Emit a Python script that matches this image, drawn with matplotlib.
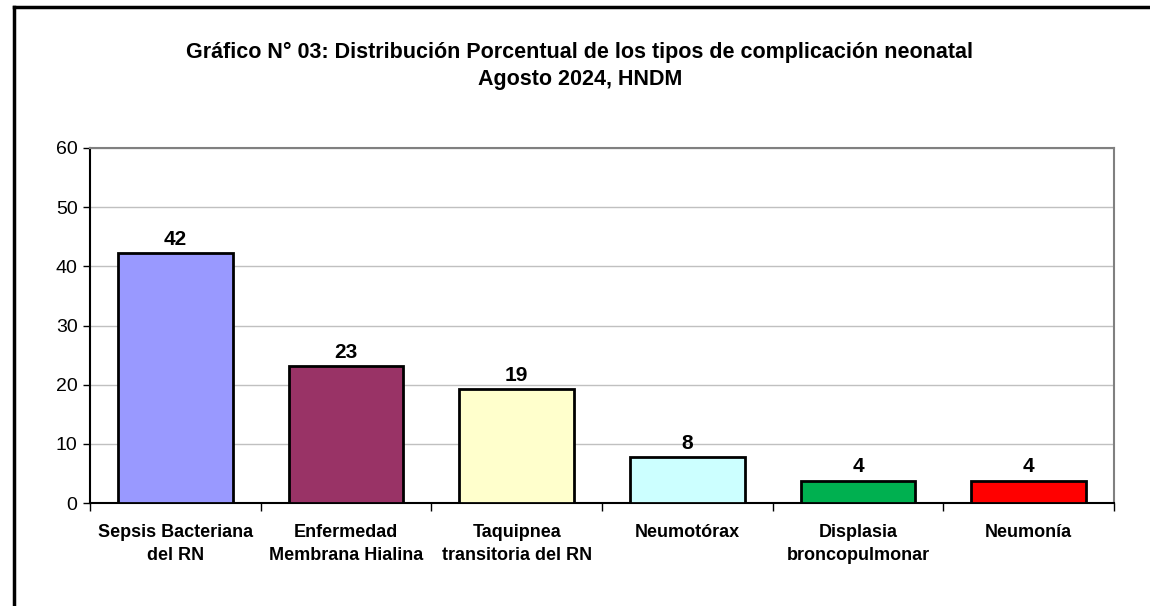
import matplotlib as mpl
import matplotlib.pyplot as plt
from matplotlib.lines import Line2D

mpl.use('Agg')

plt.rcParams['font.family'] = ['Liberation Sans Narrow', 'Liberation Sans', 'DejaVu Sans']

# Data
categories = ['Sepsis Bacteriana\ndel RN', 'Enfermedad\nMembrana Hialina',
              'Taquipnea\ntransitoria del RN', 'Neumotórax',
              'Displasia\nbroncopulmonar', 'Neumonía']
values = [42.3, 23.1, 19.2, 7.7, 3.8, 3.8]
labels = ['42', '23', '19', '8', '4', '4']
colors = ['#9999FF', '#993366', '#FFFFCC', '#CCFFFF', '#00B050', '#FF0000']
yticks = [0, 10, 20, 30, 40, 50, 60]

fig = plt.figure(figsize=(11.5, 6.06), dpi=100)
ax = fig.add_axes([90 / 1150, 1 - 503 / 606, 1024 / 1150, 355 / 606])

x = range(len(categories))
ax.bar(x, values, width=0.67, color=colors, edgecolor='black', linewidth=2, zorder=3)
for i, (v, t) in enumerate(zip(values, labels)):
    ax.annotate(t, (i, v), xytext=(0, 3), textcoords='offset points',
                ha='center', va='bottom', fontsize=15, fontweight='bold')

ax.set_xlim(-0.5, len(categories) - 0.5)
ax.set_ylim(0, 60)
ax.set_yticks(yticks)
ax.yaxis.grid(True, color='#c0c0c0', linewidth=1, zorder=0)
ax.tick_params(axis='y', labelsize=14, length=5, width=1, pad=4)

# category labels between boundary ticks
ax.set_xticks([i - 0.5 for i in range(len(categories) + 1)])
ax.set_xticklabels([])
ax.tick_params(axis='x', length=6, width=1)
ax.set_xticks(list(x), minor=True)
ax.set_xticklabels(categories, minor=True, fontsize=13, fontweight='bold', linespacing=1.45)
ax.tick_params(axis='x', which='minor', length=0, pad=15)

for s in ['top', 'right']:
    ax.spines[s].set_color('#808080')
    ax.spines[s].set_linewidth(1.5)
for s in ['left', 'bottom']:
    ax.spines[s].set_color('black')
    ax.spines[s].set_linewidth(1.5)

fig.text(580 / 1150, 1 - 52 / 606,
         'Gráfico N° 03: Distribución Porcentual de los tipos de complicación neonatal',
         ha='center', va='center', fontsize=15.5, fontweight='bold')
fig.text(580 / 1150, 1 - 80 / 606, 'Agosto 2024, HNDM',
         ha='center', va='center', fontsize=15.5, fontweight='bold')

# outer frame (top and left edges)
fig.add_artist(Line2D([14 / 1150, 1], [1 - 7 / 606, 1 - 7 / 606], color='black', linewidth=2.5))
fig.add_artist(Line2D([14 / 1150, 14 / 1150], [0, 1 - 7 / 606], color='black', linewidth=2.5))

fig.savefig('out.png', dpi=100)
